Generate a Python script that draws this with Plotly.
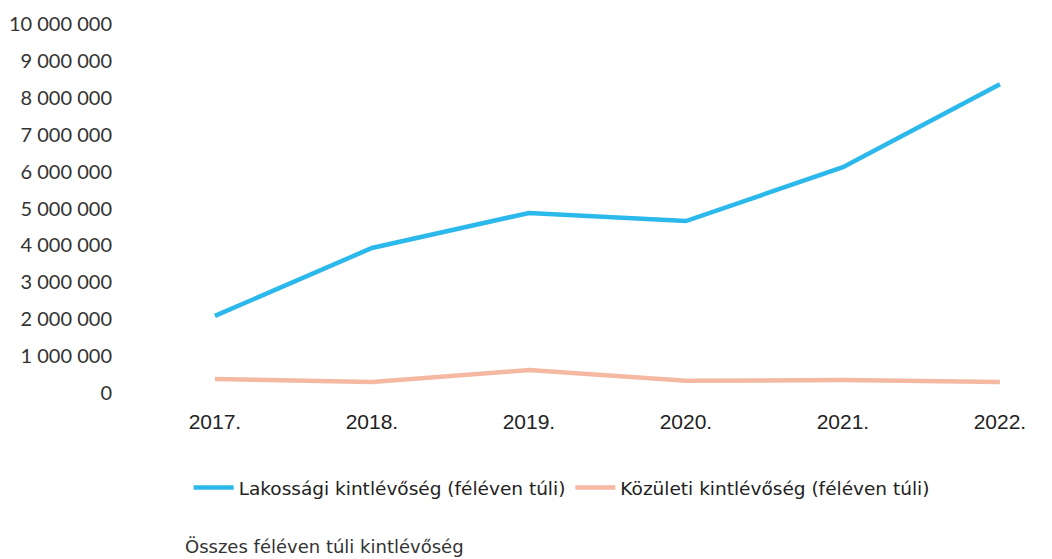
import plotly.graph_objects as go

years = ["2017.", "2018.", "2019.", "2020.", "2021.", "2022."]
lakossagi = [2090000, 3930000, 4880000, 4660000, 6120000, 8370000]
kozuleti = [380000, 300000, 620000, 330000, 350000, 300000]
y_ticks = [0, 1000000, 2000000, 3000000, 4000000, 5000000, 6000000, 7000000, 8000000, 9000000, 10000000]
y_tick_text = ["0", "1 000 000", "2 000 000", "3 000 000", "4 000 000", "5 000 000",
               "6 000 000", "7 000 000", "8 000 000", "9 000 000", "10 000 000"]
title = "Összes féléven túli kintlévőség"

xs = list(range(len(years)))

fig = go.Figure()
fig.add_trace(go.Scatter(x=xs, y=lakossagi, mode="lines", name="Lakossági kintlévőség (féléven túli)",
                         line=dict(color="#2BB8EA", width=4.5)))
fig.add_trace(go.Scatter(x=xs, y=kozuleti, mode="lines", name="Közületi kintlévőség (féléven túli)",
                         line=dict(color="#F5B9A3", width=4.5)))

fig.update_layout(
    width=1052, height=559,
    margin=dict(l=122, r=48, t=16, b=174, autoexpand=False),
    paper_bgcolor="white", plot_bgcolor="white",
    font=dict(family="Lato, Open Sans, sans-serif", color="#333333", size=15),
    showlegend=True,
    legend=dict(orientation="h", x=0.0665, xanchor="left", y=-0.2575, yanchor="middle",
                font=dict(family="DejaVu Sans, sans-serif", size=18.5, color="#222222"),
                itemwidth=40, tracegroupgap=0, bgcolor="rgba(0,0,0,0)"),
    xaxis=dict(range=[-0.541, 5.077], tickvals=xs, ticktext=years, showgrid=False, zeroline=False,
               showline=False, ticks="", ticklabelstandoff=14, automargin=False,
               tickfont=dict(family="Liberation Sans, sans-serif", size=21, color="#222222")),
    yaxis=dict(range=[0, 10000000], tickvals=y_ticks, ticktext=y_tick_text, showgrid=False,
               zeroline=False, showline=False, ticks="", ticklabelstandoff=17, automargin=False,
               tickfont=dict(family="Lato, sans-serif", size=20, color="#333333")),
    annotations=[dict(text=title, xref="paper", yref="paper", x=0.06, y=-0.416, xanchor="left",
                      yanchor="middle", showarrow=False,
                      font=dict(family="DejaVu Sans, sans-serif", size=18, color="#333333"))],
)

fig.write_html("out.html")
